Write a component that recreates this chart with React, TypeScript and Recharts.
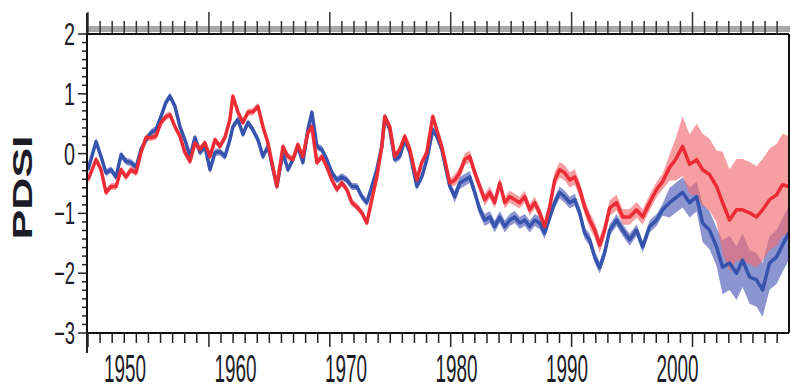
import React from "react";
import {
  ComposedChart,
  Area,
  Line,
  XAxis,
  YAxis,
  ReferenceLine,
} from "recharts";

// sample years
const years = [
  1946.65, 1947.38, 1947.83, 1948.28, 1948.73, 1949.19, 1949.64, 1950.09, 1950.54, 1950.99,
  1951.45, 1951.9, 1952.35, 1952.8, 1953.25, 1953.71, 1954.07, 1954.52, 1954.97, 1955.42,
  1955.88, 1956.33, 1956.78, 1957.23, 1957.69, 1958.14, 1958.59, 1959.04, 1959.49, 1959.76,
  1960.22, 1960.67, 1961.12, 1961.57, 1962.03, 1962.48, 1962.93, 1963.74, 1964.29, 1964.74,
  1965.19, 1965.64, 1966.09, 1966.55, 1966.91, 1967.36, 1967.81, 1968.26, 1968.72, 1969.17,
  1969.62, 1970.07, 1970.52, 1970.98, 1971.43, 1971.88, 1972.33, 1972.78, 1973.24, 1973.51,
  1973.96, 1974.41, 1974.86, 1975.32, 1975.77, 1976.4, 1976.85, 1977.31, 1977.85, 1978.21,
  1978.66, 1979.39, 1979.84, 1980.29, 1980.74, 1981.19, 1981.65, 1982.1, 1982.55, 1983.0,
  1983.45, 1983.91, 1984.36, 1984.81, 1985.26, 1985.71, 1986.17, 1986.62, 1987.07, 1987.52,
  1987.97, 1988.43, 1988.88, 1989.33, 1989.78, 1990.24, 1990.69, 1991.14, 1991.59, 1992.04,
  1992.5, 1992.95, 1993.4, 1993.85, 1994.48, 1995.03, 1995.66, 1996.29, 1996.84, 1997.47,
  1998.1, 1998.64, 1999.28, 1999.82, 2000.45, 2001.09, 2001.72, 2002.26, 2002.89, 2003.53,
  2004.07, 2004.7, 2005.33, 2005.88, 2006.51, 2007.14, 2007.69, 2008.32, 2008.95, 2009.49,
  2010.05,
];

// PDSI, blue series
const blueValues = [
  -0.27, 0.2, -0.05, -0.32, -0.27, -0.39, -0.02, -0.13, -0.15, -0.23,
  0.07, 0.23, 0.35, 0.4, 0.62, 0.86, 0.96, 0.79, 0.45, 0.23,
  -0.05, 0.27, 0.02, 0.12, -0.27, 0.02, 0.03, -0.05, 0.23, 0.45,
  0.57, 0.32, 0.52, 0.4, 0.23, -0.05, 0.12, -0.55, 0.02, -0.27,
  -0.1, 0.12, -0.15, 0.4, 0.69, 0.12, 0.07, -0.1, -0.32, -0.44,
  -0.39, -0.44, -0.55, -0.55, -0.72, -0.82, -0.55, -0.27, 0.12, 0.62,
  0.4, -0.1, -0.05, 0.23, 0.02, -0.55, -0.39, -0.1, 0.4, 0.29,
  0.07, -0.55, -0.72, -0.49, -0.44, -0.39, -0.65, -0.94, -1.11, -1.06,
  -1.22, -1.06, -1.22, -1.11, -1.06, -1.16, -1.11, -1.22, -1.11, -1.16,
  -1.33, -1.06, -0.82, -0.65, -0.72, -0.82, -0.77, -0.99, -1.33, -1.44,
  -1.73, -1.91, -1.66, -1.28, -1.11, -1.28, -1.44, -1.28, -1.56, -1.22,
  -1.11, -0.94, -0.82, -0.74, -0.65, -0.82, -0.72, -1.16, -1.28, -1.56,
  -1.9, -1.83, -2.0, -1.78, -2.06, -2.11, -2.28, -1.83, -1.73, -1.53,
  -1.33,
];

// PDSI, red series
const redValues = [
  -0.44, -0.1, -0.27, -0.65, -0.55, -0.55, -0.27, -0.39, -0.27, -0.32,
  0.02, 0.27, 0.27, 0.29, 0.52, 0.62, 0.65, 0.45, 0.29, 0.02,
  -0.13, 0.18, 0.07, 0.18, -0.05, 0.23, 0.12, 0.27, 0.57, 0.96,
  0.69, 0.52, 0.69, 0.7, 0.79, 0.45, 0.18, -0.55, 0.12, -0.05,
  -0.1, 0.15, -0.05, 0.35, 0.45, -0.15, -0.05, -0.22, -0.44, -0.6,
  -0.49, -0.6, -0.82, -0.89, -0.99, -1.16, -0.77, -0.39, 0.12, 0.62,
  0.45, -0.05, 0.07, 0.29, 0.07, -0.44, -0.15, 0.02, 0.62, 0.4,
  0.12, -0.49, -0.44, -0.32, -0.1, -0.05, -0.32, -0.55, -0.77, -0.65,
  -0.82, -0.49, -0.82, -0.72, -0.77, -0.82, -0.72, -0.94, -0.82, -0.99,
  -1.22, -0.89, -0.44, -0.27, -0.32, -0.44, -0.39, -0.6, -0.89, -1.11,
  -1.28, -1.53, -1.28, -0.91, -0.82, -1.06, -1.06, -0.94, -1.06, -0.82,
  -0.6, -0.47, -0.23, -0.1, 0.12, -0.18, -0.1, -0.27, -0.35, -0.55,
  -0.82, -1.11, -0.94, -0.94, -0.99, -1.06, -0.94, -0.77, -0.69, -0.52,
  -0.55,
];

// half-width of the shaded bands, as steps: [until year, spread]
const blueSpreadUntil = [1979.6, 1999.0, 2002.0, 2004.0, 2011];
const blueSpreadSize = [0.06, 0.1, 0.25, 0.32, 0.45];
const redSpreadUntil = [1979.6, 1988.2, 1999.0, 1999.6, 2000.2, 2001.5, 2004.0, 2011];
const redSpreadSize = [0.06, 0.1, 0.13, 0.22, 0.35, 0.5, 0.6, 0.85];

const decadeLabels = [1950, 1960, 1970, 1980, 1990, 2000];
const yLabels = [-3, -2, -1, 0, 1, 2];

const X_MIN = 1946.56;
const X_MAX = 2010.08;

const BLUE = "#3654ad";
const RED = "#ec2c35";
const TEXT = "#1c1c28";
const FONT = "'Liberation Sans Narrow', 'Liberation Sans', Arial, sans-serif";

const spreadAt = (year: number, until: number[], size: number[]) => {
  const i = until.findIndex((u) => year <= u);
  return size[i < 0 ? size.length - 1 : i];
};

const data = years.map((year, i) => {
  const b = blueValues[i];
  const r = redValues[i];
  const bs = spreadAt(year, blueSpreadUntil, blueSpreadSize);
  const rs = spreadAt(year, redSpreadUntil, redSpreadSize);
  return {
    year,
    blue: b,
    red: r,
    blueBand: [b - bs, b + bs],
    redBand: [r - rs, r + rs],
  };
});

// year-axis tick marks: one per ~12px in the figure, longer every 10th
const yearMarks = Array.from({ length: 58 }, (_, k) => +(1946.65 + k * 1.094).toFixed(3));
const majorMarks = new Set(yearMarks.filter((_, k) => k % 10 === 0));
const bottomTicks = [...yearMarks, ...decadeLabels].sort((a, b) => a - b);

const yTicks: number[] = [];
yLabels.forEach((v) => {
  yTicks.push(v);
  if (v < 2) for (let j = 1; j < 7; j++) yTicks.push(+(v + j / 7).toFixed(4));
});

const TopTick = (props: any) => {
  const { x, y, payload, index } = props;
  const major = majorMarks.has(payload.value);
  return (
    <g>
      {index === 0 && <rect x={x} y={y - 8} width={702} height={6} fill="#a8a8a8" />}
      <line x1={x} x2={x} y1={y - 1} y2={y - (major ? 22 : 13)} stroke="#333" strokeWidth={1.5} />
    </g>
  );
};

const BottomTick = (props: any) => {
  const { x, y, payload } = props;
  const v = payload.value;
  if (decadeLabels.includes(v)) {
    return (
      <text
        x={x}
        y={y + 49}
        textAnchor="middle"
        fontSize={39}
        fontFamily={FONT}
        fill={TEXT}
        textLength={42}
        lengthAdjust="spacingAndGlyphs"
      >
        {v}
      </text>
    );
  }
  const major = majorMarks.has(v);
  return <line x1={x} x2={x} y1={y} y2={y + (major ? 14 : 10)} stroke="#222" strokeWidth={1.5} />;
};

const LeftTick = (props: any) => {
  const { x, y, payload } = props;
  const v = payload.value;
  const isLabel = yLabels.includes(v);
  return (
    <g>
      <line x1={x - (isLabel ? 9 : 5)} x2={x} y1={y} y2={y} stroke="#222" strokeWidth={1.5} />
      {isLabel && (
        <text
          x={x - 12}
          y={y + 11}
          textAnchor="end"
          fontSize={31}
          fontFamily={FONT}
          fill={TEXT}
          textLength={v < 0 ? 21 : 11}
          lengthAdjust="spacingAndGlyphs"
        >
          {v < 0 ? `\u2212${-v}` : v}
        </text>
      )}
      {v === 2 && <line x1={x} x2={x} y1={y} y2={y - 21} stroke="#222" strokeWidth={2} />}
      {v === -3 && <line x1={x} x2={x} y1={y} y2={y + 20} stroke="#222" strokeWidth={2} />}
    </g>
  );
};

const PdsiLabel = (props: any) => {
  const vb = props.viewBox || { x: 0, y: 26, width: 79, height: 299 };
  const cx = vb.x + 24;
  const cy = vb.y + vb.height / 2 + 4;
  return (
    <text
      x={cx}
      y={cy}
      transform={`rotate(-90 ${cx} ${cy})`}
      textAnchor="middle"
      fontSize={27}
      fontWeight="bold"
      fontFamily="'Liberation Sans', Arial, sans-serif"
      fill={TEXT}
      textLength={104}
      lengthAdjust="spacingAndGlyphs"
    >
      PDSI
    </text>
  );
};

export default function App() {
  return (
    <div style={{ position: "fixed", left: 8, top: 8, width: 783, height: 383, background: "#fff" }}>
      <ComposedChart
        width={783}
        height={383}
        data={data}
        margin={{ top: 0, right: 2, bottom: 0, left: 0 }}
      >
        <XAxis
          xAxisId="b"
          dataKey="year"
          type="number"
          domain={[X_MIN, X_MAX]}
          allowDataOverflow
          ticks={bottomTicks}
          interval={0}
          tick={<BottomTick />}
          tickLine={false}
          tickSize={0}
          tickMargin={0}
          axisLine={{ stroke: "#111", strokeWidth: 2 }}
          height={58}
        />
        <XAxis
          xAxisId="t"
          orientation="top"
          dataKey="year"
          type="number"
          domain={[X_MIN, X_MAX]}
          allowDataOverflow
          ticks={yearMarks}
          interval={0}
          tick={<TopTick />}
          tickLine={false}
          tickSize={0}
          tickMargin={0}
          axisLine={false}
          height={26}
        />
        <YAxis
          yAxisId="l"
          type="number"
          domain={[-3, 2]}
          allowDataOverflow
          ticks={yTicks}
          interval={0}
          tick={<LeftTick />}
          tickLine={false}
          tickSize={0}
          tickMargin={0}
          axisLine={{ stroke: "#111", strokeWidth: 2 }}
          width={79}
          label={<PdsiLabel />}
        />
        <Area
          xAxisId="b"
          yAxisId="l"
          type="linear"
          dataKey="blueBand"
          stroke="none"
          fill="#5b68bb"
          fillOpacity={0.7}
          isAnimationActive={false}
        />
        <Line
          xAxisId="b"
          yAxisId="l"
          type="linear"
          dataKey="blue"
          stroke={BLUE}
          strokeWidth={3.5}
          strokeLinejoin="round"
          dot={false}
          isAnimationActive={false}
        />
        <Area
          xAxisId="b"
          yAxisId="l"
          type="linear"
          dataKey="redBand"
          stroke="none"
          fill="#ef6b72"
          fillOpacity={0.65}
          isAnimationActive={false}
        />
        <Line
          xAxisId="b"
          yAxisId="l"
          type="linear"
          dataKey="red"
          stroke={RED}
          strokeWidth={3.5}
          strokeLinejoin="round"
          dot={false}
          isAnimationActive={false}
        />
        <ReferenceLine xAxisId="b" yAxisId="l" y={2} stroke="#111" strokeWidth={2} />
        <ReferenceLine xAxisId="b" yAxisId="l" x={X_MAX} stroke="#111" strokeWidth={2} />
      </ComposedChart>
    </div>
  );
}
